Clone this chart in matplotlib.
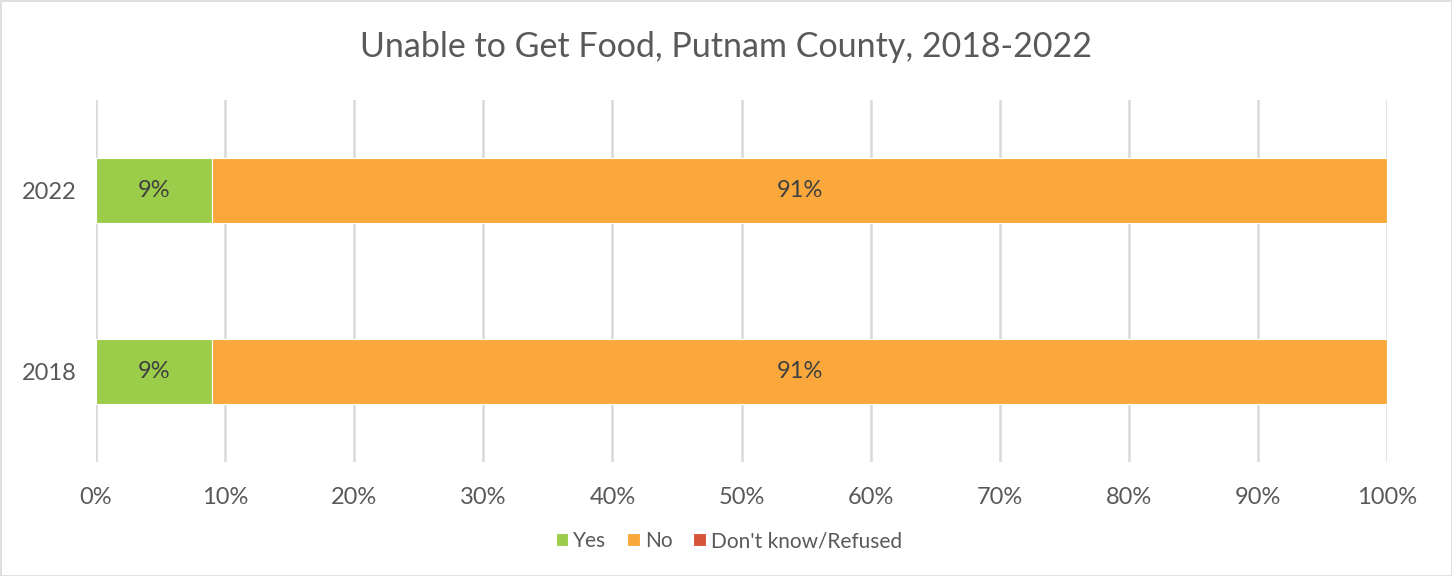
import matplotlib
matplotlib.use("Agg")
import matplotlib.pyplot as plt
from matplotlib.patches import Rectangle

years = ["2018", "2022"]
series_names = ["Yes", "No", "Don't know/Refused"]
yes_vals = [9, 9]
no_vals = [91, 91]
dk_vals = [0, 0]
colors = ["#9BCD4A", "#FAA83C", "#D5553B"]
x_ticks = [0, 10, 20, 30, 40, 50, 60, 70, 80, 90, 100]

plt.rcParams['font.family'] = ['Lato', 'DejaVu Sans']
txt = "#595959"

fig = plt.figure(figsize=(14.52, 5.76), dpi=100)
ax = fig.add_axes([96/1452, 1-462/576, (1387-96)/1452, 362/576])

left = [0, 0]
for vals, name, col in zip([yes_vals, no_vals, dk_vals], series_names, colors):
    bars = ax.barh(years, vals, left=left, height=0.36, color=col, label=name,
                   edgecolor="white", linewidth=0.8, zorder=3)
    for b, v in zip(bars, vals):
        if v > 0:
            ax.text(b.get_x() + b.get_width()/2, b.get_y() + b.get_height()/2,
                    f"{v}%", ha="center", va="center", fontsize=17, color="#404040", zorder=4)
    left = [l + v for l, v in zip(left, vals)]

ax.set_xlim(0, 100)
ax.set_ylim(-0.5, 1.5)
ax.set_xticks(x_ticks)
ax.set_xticklabels([f"{t}%" for t in x_ticks], fontsize=17, color=txt)
ax.tick_params(axis='y', labelsize=17, labelcolor=txt, length=0, pad=14)
ax.tick_params(axis='x', length=0, pad=18)
ax.grid(axis='x', color="#D9D9D9", linewidth=1.8, zorder=0)
for s in ax.spines.values():
    s.set_visible(False)

fig.text(0.5, 1-47/576, "Unable to Get Food, Putnam County, 2018-2022",
         ha="center", va="center", fontsize=24.5, color=txt)

handles, labels = ax.get_legend_handles_labels()
leg = fig.legend(handles, labels, loc="center", bbox_to_anchor=(0.502, 1-541/576),
                 ncol=3, frameon=False, fontsize=15, labelcolor=txt,
                 handlelength=0.6, handleheight=0.6, handletextpad=0.25, columnspacing=1.0)

fig.add_artist(Rectangle((0.5/1452, 0.5/576), 1-1/1452, 1-1/576, transform=fig.transFigure,
                         fill=False, edgecolor="#D9D9D9", linewidth=1.2))

fig.savefig("out.png", dpi=100)
